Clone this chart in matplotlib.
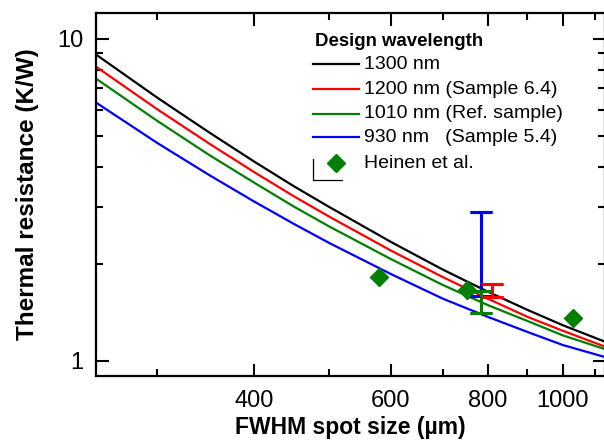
import matplotlib
matplotlib.use("Agg")
import matplotlib.pyplot as plt
from matplotlib.lines import Line2D
from matplotlib.ticker import FixedLocator, NullFormatter, FixedFormatter

plt.rcParams['font.family'] = ['Liberation Sans', 'DejaVu Sans']

# ---- data ----
spot_size = [250, 300, 350, 400, 450, 500, 600, 700, 800, 900, 1000, 1130]
r_1300 = [8.92, 6.55, 5.11, 4.15, 3.48, 3.00, 2.34, 1.92, 1.64, 1.44, 1.29, 1.15]
r_1200 = [8.18, 6.03, 4.72, 3.85, 3.24, 2.80, 2.20, 1.82, 1.56, 1.37, 1.24, 1.11]
r_1010 = [7.51, 5.55, 4.35, 3.57, 3.01, 2.61, 2.07, 1.72, 1.49, 1.33, 1.20, 1.09]
r_930 = [6.33, 4.74, 3.77, 3.12, 2.66, 2.32, 1.86, 1.56, 1.37, 1.23, 1.12, 1.03]

heinen_x = [579, 752, 1031]
heinen_y = [1.82, 1.66, 1.36]

# error bars: x, low, high
err_blue = (784, 1.59, 2.90)
err_red = (810, 1.58, 1.73)
err_green = (784, 1.41, 1.65)

series_labels = ["1300 nm", "1200 nm (Sample 6.4)", "1010 nm (Ref. sample)", "930 nm   (Sample 5.4)"]
series_colors = ["#000000", "#FF0000", "#008000", "#0000FF"]

x_major = [400, 600, 800, 1000]
x_minor = [300, 500, 700, 900, 1100]
y_major = [1, 10]
y_major_labels = ["1", "10"]
y_minor = [2, 3, 4, 5, 6, 7, 8, 9]

# ---- figure ----
W, H = 604, 440
fig = plt.figure(figsize=(W / 100, H / 100), dpi=100)
L, R, T, B = 96, 605, 13, 376
ax = fig.add_axes([L / W, 1 - B / H, (R - L) / W, (B - T) / H])
ax.set_xscale('log')
ax.set_yscale('log')
ax.set_xlim(250, 1133)
ax.set_ylim(0.898, 12.0)

for ys, c in zip([r_1300, r_1200, r_1010, r_930], series_colors):
    ax.plot(spot_size, ys, color=c, lw=1.6, solid_joinstyle='round')

ax.plot(heinen_x, heinen_y, linestyle='none', marker='D', markersize=9,
        color='#008000', markeredgecolor='#008000')

for (x, lo, hi), c in zip([err_blue, err_red, err_green], ["#0000FF", "#FF0000", "#008000"]):
    ax.errorbar([x], [lo], yerr=[[0], [hi - lo]], fmt='none', ecolor=c,
                elinewidth=2.2, capsize=8, capthick=2.2)
    ax.errorbar([x], [hi], yerr=[[hi - lo], [0]], fmt='none', ecolor=c,
                elinewidth=2.2, capsize=8, capthick=2.2)

# ticks
ax.xaxis.set_major_locator(FixedLocator(x_major))
ax.xaxis.set_major_formatter(FixedFormatter([str(v) for v in x_major]))
ax.xaxis.set_minor_locator(FixedLocator(x_minor))
ax.xaxis.set_minor_formatter(NullFormatter())
ax.yaxis.set_major_locator(FixedLocator(y_major))
ax.yaxis.set_major_formatter(FixedFormatter(y_major_labels))
ax.yaxis.set_minor_locator(FixedLocator(y_minor))
ax.yaxis.set_minor_formatter(NullFormatter())
ax.tick_params(which='both', direction='in', top=True, right=True, width=1.5,
               labelsize=17, colors='black')
ax.tick_params(which='major', length=9)
ax.tick_params(which='minor', length=5)
ax.tick_params(axis='x', which='major', pad=10)
ax.tick_params(axis='y', which='major', pad=9)
for s in ax.spines.values():
    s.set_linewidth(1.6)

ax.set_xlabel("FWHM spot size (µm)", fontsize=16.5, fontweight='bold', labelpad=3)
ax.set_ylabel("Thermal resistance (K/W)", fontsize=17.5, fontweight='bold', labelpad=13)

# ---- manual legend (figure pixel coordinates) ----
def fx(px):
    return px / W

def fy(py):
    return 1 - py / H

fig.text(fx(315), fy(42), "Design wavelength", fontsize=13.4, fontweight='bold',
         va='center', ha='left')
rows_y = [64, 89, 114, 137]
for yy, lab, c in zip(rows_y, series_labels, series_colors):
    fig.add_artist(Line2D([fx(313), fx(359)], [fy(yy), fy(yy)], color=c, lw=1.6))
    fig.text(fx(364), fy(yy), lab, fontsize=14, va='center', ha='left')
fig.add_artist(Line2D([fx(336)], [fy(163)], marker='D', markersize=9,
                      color='#008000', linestyle='none'))
fig.text(fx(364), fy(163), "Heinen et al.", fontsize=14, va='center', ha='left')
fig.add_artist(Line2D([fx(313), fx(313), fx(342)], [fy(159), fy(180), fy(180)],
                      color='black', lw=0.9))

fig.savefig("out.png", dpi=100)
